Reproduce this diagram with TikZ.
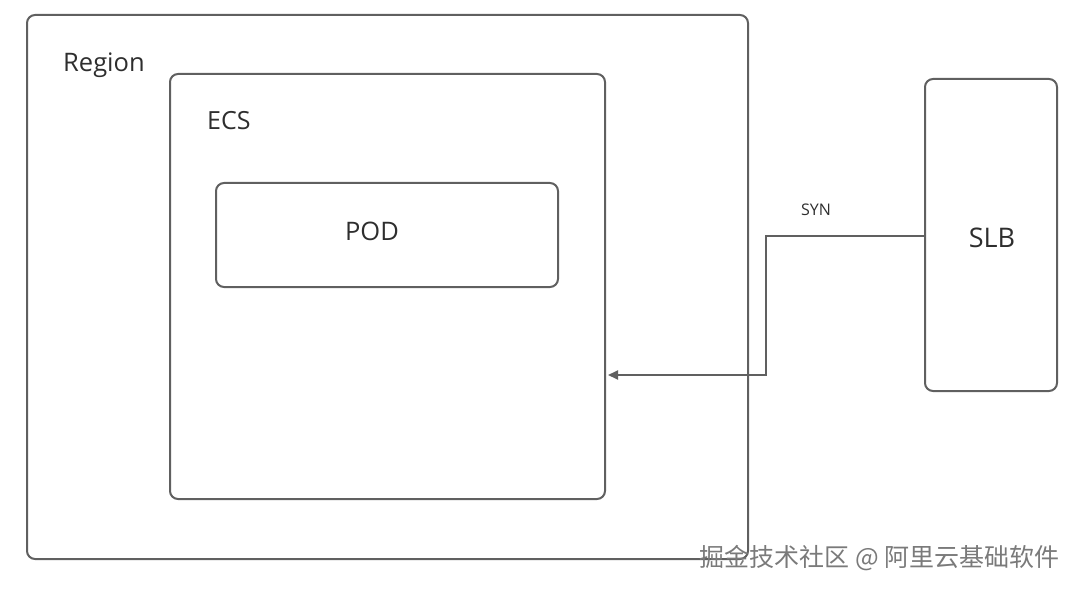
\documentclass[tikz,border=0pt]{standalone}
\usepackage{fontspec}
\setmainfont{Open Sans}
\newfontfamily\cjk{Noto Sans CJK SC}
\usetikzlibrary{arrows.meta}
\definecolor{linegray}{HTML}{606060}
\definecolor{textdark}{HTML}{2E2E2E}
\definecolor{wmgray}{HTML}{7A7A7A}
\tikzset{
  box/.style={draw=linegray, line width=2pt, rounded corners=8pt, rectangle, inner sep=0pt},
  lbl/.style={text=textdark, inner sep=0pt},
  conn/.style={draw=linegray, line width=2pt, -{Triangle[length=10pt,width=9pt]}},
}
\begin{document}
\begin{tikzpicture}[x=1pt,y=-1pt]
\useasboundingbox (0,0) rectangle (1080,591);
\node[box, minimum width=721pt, minimum height=544pt] (region) at (387.5,287) {};
\node[box, minimum width=435pt, minimum height=425pt] (ecs) at (387.5,286.5) {};
\node[box, minimum width=342pt, minimum height=104pt] (pod) at (387,235) {};
\node[box, minimum width=132pt, minimum height=312pt] (slb) at (991,235) {};
\node[lbl, font=\fontsize{25.5}{28}\selectfont, anchor=west] (regionlbl) at (63,65) {Region};
\node[lbl, font=\fontsize{25}{28}\selectfont, anchor=west] (ecslbl) at (207,121) {ECS};
\node[lbl, font=\fontsize{25.5}{28}\selectfont] (podlbl) at (372,231) {POD};
\node[lbl, font=\fontsize{27}{30}\selectfont] (slblbl) at (992,238) {SLB};
\node[lbl, font=\fontsize{16}{18}\selectfont] (syn) at (816,210) {SYN};
\coordinate (bend) at (766,236);
\draw[conn] (slb.west |- bend) -- (bend) |- ([xshift=2pt]ecs.east |- 0,375);
\node[text=wmgray, font=\cjk\fontsize{25}{28}\selectfont, anchor=east, inner sep=0pt] (wm) at (1060,558) {掘金技术社区 @ 阿里云基础软件};
\end{tikzpicture}
\end{document}
